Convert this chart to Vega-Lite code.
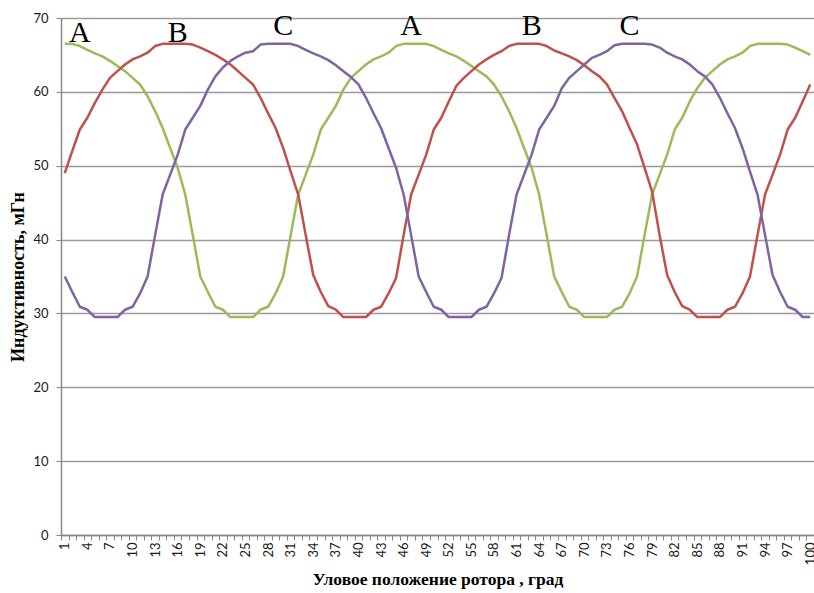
{
  "$schema": "https://vega.github.io/schema/vega-lite/v6.json",
  "width": 753,
  "height": 517,
  "autosize": {"type": "none"},
  "padding": {"left": 61, "top": 18, "right": 0, "bottom": 58},
  "background": "white",
  "config": {"view": {"stroke": null}},
  "datasets": {
    "series": [
      {"a":1,"A":66.5,"B":49,"C":35},{"a":2,"A":66.5,"B":52,"C":32.9},{"a":3,"A":66.2,"B":54.9,"C":30.9},{"a":4,"A":65.7,"B":56.5,"C":30.5},{"a":5,"A":65.2,"B":58.5,"C":29.5},
      {"a":6,"A":64.8,"B":60.3,"C":29.5},{"a":7,"A":64.2,"B":61.9,"C":29.5},{"a":8,"A":63.5,"B":62.8,"C":29.5},{"a":9,"A":62.8,"B":63.7,"C":30.5},{"a":10,"A":61.9,"B":64.4,"C":30.9},
      {"a":11,"A":61,"B":64.8,"C":32.7},{"a":12,"A":59.4,"B":65.3,"C":35},{"a":13,"A":57.4,"B":66.2,"C":40.6},{"a":14,"A":55.1,"B":66.5,"C":46.1},{"a":15,"A":52.4,"B":66.5,"C":48.8},
      {"a":16,"A":49.7,"B":66.5,"C":51.5},{"a":17,"A":46.1,"B":66.5,"C":54.9},{"a":18,"A":40.6,"B":66.4,"C":56.5},{"a":19,"A":35,"B":66,"C":58.1},{"a":20,"A":32.9,"B":65.5,"C":60.3},
      {"a":21,"A":30.9,"B":65,"C":62.1},{"a":22,"A":30.5,"B":64.4,"C":63.3},{"a":23,"A":29.5,"B":63.7,"C":64.2},{"a":24,"A":29.5,"B":62.8,"C":64.8},{"a":25,"A":29.5,"B":61.9,"C":65.3},
      {"a":26,"A":29.5,"B":61,"C":65.5},{"a":27,"A":30.5,"B":59.2,"C":66.4},{"a":28,"A":30.9,"B":57.1,"C":66.5},{"a":29,"A":32.7,"B":55.1,"C":66.5},{"a":30,"A":35,"B":52.4,"C":66.5},
      {"a":31,"A":40.6,"B":49.2,"C":66.5},{"a":32,"A":46.1,"B":46.1,"C":66.2},{"a":33,"A":48.8,"B":40.6,"C":65.7},{"a":34,"A":51.5,"B":35.2,"C":65.2},{"a":35,"A":54.9,"B":32.9,"C":64.8},
      {"a":36,"A":56.5,"B":31,"C":64.3},{"a":37,"A":58.1,"B":30.5,"C":63.6},{"a":38,"A":60.3,"B":29.5,"C":62.8},{"a":39,"A":61.9,"B":29.5,"C":62},{"a":40,"A":62.8,"B":29.5,"C":61},
      {"a":41,"A":63.7,"B":29.5,"C":59.2},{"a":42,"A":64.4,"B":30.5,"C":57.1},{"a":43,"A":64.8,"B":30.9,"C":55.1},{"a":44,"A":65.3,"B":32.7,"C":52.4},{"a":45,"A":66.2,"B":34.8,"C":49.7},
      {"a":46,"A":66.5,"B":40.6,"C":46.1},{"a":47,"A":66.5,"B":46.1,"C":40.6},{"a":48,"A":66.5,"B":48.8,"C":35},{"a":49,"A":66.5,"B":51.5,"C":32.9},{"a":50,"A":66.2,"B":54.9,"C":30.9},
      {"a":51,"A":65.7,"B":56.5,"C":30.5},{"a":52,"A":65.2,"B":58.7,"C":29.5},{"a":53,"A":64.8,"B":60.8,"C":29.5},{"a":54,"A":64.2,"B":61.9,"C":29.5},{"a":55,"A":63.5,"B":62.8,"C":29.5},
      {"a":56,"A":62.8,"B":63.7,"C":30.5},{"a":57,"A":62.1,"B":64.4,"C":30.9},{"a":58,"A":61,"B":65,"C":32.7},{"a":59,"A":59.4,"B":65.5,"C":34.8},{"a":60,"A":57.4,"B":66.2,"C":40.6},
      {"a":61,"A":55.1,"B":66.5,"C":46.1},{"a":62,"A":52.4,"B":66.5,"C":48.8},{"a":63,"A":49.7,"B":66.5,"C":51.5},{"a":64,"A":46.1,"B":66.5,"C":54.9},{"a":65,"A":40.6,"B":66.2,"C":56.5},
      {"a":66,"A":35,"B":65.6,"C":58.1},{"a":67,"A":32.9,"B":65.2,"C":60.5},{"a":68,"A":30.9,"B":64.8,"C":61.9},{"a":69,"A":30.5,"B":64.3,"C":62.8},{"a":70,"A":29.5,"B":63.6,"C":63.7},
      {"a":71,"A":29.5,"B":62.8,"C":64.6},{"a":72,"A":29.5,"B":62.1,"C":65},{"a":73,"A":29.5,"B":61,"C":65.5},{"a":74,"A":30.5,"B":59.2,"C":66.3},{"a":75,"A":30.9,"B":57.4,"C":66.5},
      {"a":76,"A":32.7,"B":55.1,"C":66.5},{"a":77,"A":35,"B":52.9,"C":66.5},{"a":78,"A":40.6,"B":49.7,"C":66.5},{"a":79,"A":46.1,"B":46.5,"C":66.4},{"a":80,"A":48.8,"B":40.6,"C":66},
      {"a":81,"A":51.5,"B":35.2,"C":65.3},{"a":82,"A":54.9,"B":32.9,"C":64.8},{"a":83,"A":56.5,"B":31,"C":64.4},{"a":84,"A":58.7,"B":30.5,"C":63.7},{"a":85,"A":60.5,"B":29.5,"C":62.8},
      {"a":86,"A":61.9,"B":29.5,"C":62.1},{"a":87,"A":62.8,"B":29.5,"C":61},{"a":88,"A":63.7,"B":29.5,"C":59.2},{"a":89,"A":64.4,"B":30.5,"C":57.1},{"a":90,"A":64.8,"B":30.9,"C":55.1},
      {"a":91,"A":65.3,"B":32.7,"C":52.4},{"a":92,"A":66.2,"B":35,"C":49.2},{"a":93,"A":66.5,"B":40.6,"C":46.1},{"a":94,"A":66.5,"B":46.1,"C":40.6},{"a":95,"A":66.5,"B":48.8,"C":35.2},
      {"a":96,"A":66.5,"B":51.5,"C":32.9},{"a":97,"A":66.4,"B":54.9,"C":30.9},{"a":98,"A":66,"B":56.5,"C":30.5},{"a":99,"A":65.5,"B":58.7,"C":29.5},{"a":100,"A":65,"B":61,"C":29.5}
    ],
    "labels": [
      {"a":3,"L":66.8,"label":"A"},
      {"a":16,"L":66.8,"label":"B"},
      {"a":30,"L":67.7,"label":"C"},
      {"a":47,"L":67.7,"label":"A"},
      {"a":63,"L":67.7,"label":"B"},
      {"a":76,"L":67.7,"label":"C"}
    ]
  },
  "layer": [
    {
      "data": {"name": "series"},
      "transform": [{"fold": ["A", "B", "C"], "as": ["s", "L"]}],
      "mark": {"type": "line", "strokeWidth": 2.5, "strokeJoin": "round"},
      "encoding": {
        "x": {
          "field": "a", "type": "ordinal", "sort": "ascending", "bandPosition": 0.5,
          "scale": {"type": "band", "paddingInner": 0, "paddingOuter": 0},
          "axis": {
            "title": "Уловое положение ротора , град",
            "titleFont": "Liberation Serif", "titleFontWeight": "bold", "titleFontSize": 17.5, "titleColor": "#000000", "titlePadding": 6,
            "labelExpr": "(datum.value - 1) % 3 == 0 ? datum.label : ''",
            "labelAngle": -90, "labelOverlap": false, "labelFont": "Lato", "labelFontSize": 13, "labelColor": "#1a1a1a", "labelPadding": 2,
            "tickBand": "extent", "tickSize": 5, "tickColor": "#868686", "tickWidth": 1,
            "domainColor": "#868686", "domainWidth": 1.5, "grid": false
          }
        },
        "y": {
          "field": "L", "type": "quantitative",
          "scale": {"domain": [0, 70], "nice": false, "zero": true},
          "axis": {
            "values": [0, 10, 20, 30, 40, 50, 60, 70],
            "title": "Индуктивность, мГн",
            "titleFont": "Liberation Serif", "titleFontWeight": "bold", "titleFontSize": 18, "titleColor": "#000000", "titlePadding": 5,
            "labelFont": "Lato", "labelFontSize": 13, "labelColor": "#1a1a1a", "labelPadding": 8,
            "tickSize": 5, "tickColor": "#868686", "domainColor": "#868686", "domainWidth": 1.5,
            "grid": true, "gridColor": "#9a9a9a", "gridWidth": 1.5
          }
        },
        "color": {
          "field": "s", "type": "nominal",
          "scale": {"domain": ["A", "B", "C"], "range": ["#9BBB59", "#C0504D", "#8064A2"]},
          "legend": null
        }
      }
    },
    {
      "data": {"name": "labels"},
      "mark": {"type": "text", "font": "Liberation Serif", "fontSize": 30, "baseline": "alphabetic", "align": "center", "color": "#000000"},
      "encoding": {
        "x": {"field": "a", "type": "ordinal", "sort": "ascending", "bandPosition": 0.5},
        "y": {"field": "L", "type": "quantitative"},
        "text": {"field": "label", "type": "nominal"}
      }
    }
  ]
}
